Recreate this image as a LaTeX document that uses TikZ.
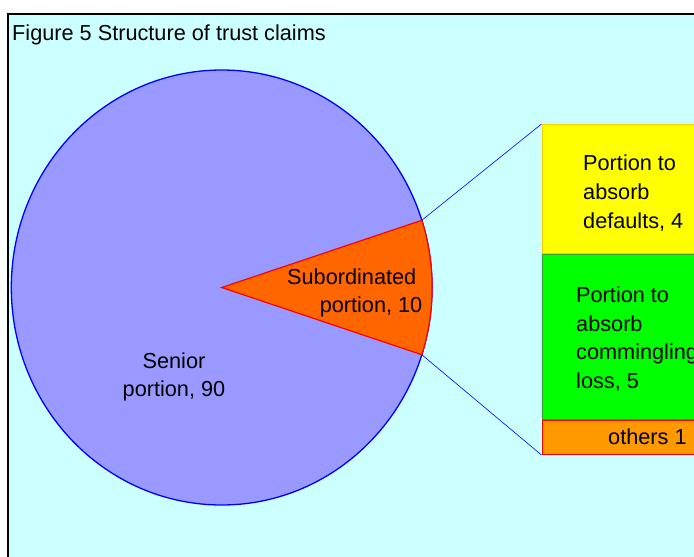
\documentclass[tikz,border=0pt]{standalone}
\usepackage{fontspec}
\setmainfont{Liberation Sans}
\usetikzlibrary{positioning}

\definecolor{chartbg}{HTML}{CCFFFF}
\definecolor{senior}{HTML}{9999FF}
\definecolor{subord}{HTML}{FF6600}
\definecolor{defaultfill}{HTML}{FFFF00}
\definecolor{defaultedge}{HTML}{FFCC00}
\definecolor{minglefill}{HTML}{00FF00}
\definecolor{mingleedge}{HTML}{33A033}
\definecolor{othersfill}{HTML}{FF9900}

\tikzset{
    lbl/.style={font=\fontsize{21.7}{28.7}\selectfont, inner sep=0pt},
    barbox/.style={draw, line width=1pt, minimum width=200pt, inner sep=0pt},
}

\begin{document}
\begin{tikzpicture}[x=1pt, y=-1pt]
    \useasboundingbox (0,0) rectangle (694,557);
    \clip (0,0) rectangle (694,557);
    \fill[white] (0,0) rectangle (694,557);
    \draw[fill=chartbg, line width=1.5pt] (8,14) rectangle (720,600);
    \node[lbl, anchor=west] (title) at (12,35) {Figure 5 Structure of trust claims};

    % pie
    \coordinate (centre) at (221.7,287.5);
    \coordinate (sliceTop) at (421.8,220.3);
    \coordinate (sliceBot) at (421.8,354.7);
    \draw[blue, fill=senior, line width=1.3pt] (centre) ellipse [x radius=210.4pt, y radius=217.5pt];
    \draw[red, fill=subord, line width=1.2pt] (centre) -- (sliceTop)
        arc[start angle=18, end angle=-18, x radius=210.4pt, y radius=217.5pt] -- cycle;
    \node[lbl, align=center] (seniorlbl) at (174,377) {Senior\\portion, 90};
    \node[lbl, align=right, anchor=east] (subordlbl) at (422.5,293) {Subordinated\kern6pt\\portion, 10};

    % bar
    \node[barbox, anchor=north west, draw=defaultedge, fill=defaultfill, minimum height=129pt] (defaults) at (541.5,124) {};
    \node[barbox, draw=mingleedge, fill=minglefill, minimum height=165pt, below right=0pt and 0pt of defaults.south west] (mingle) {};
    \node[barbox, draw=red, fill=othersfill, minimum height=34pt, below right=0pt and 0pt of mingle.south west] (others) {};
    \draw[blue, line width=0.6pt] (sliceTop) -- (defaults.north west);
    \draw[blue, line width=0.6pt] (sliceBot) -- (others.south west);

    \node[lbl, align=left, anchor=west] (defaultslbl) at (583,193) {Portion to\\absorb\\defaults, 4};
    \node[lbl, align=left, anchor=west] (minglelbl) at (576,339) {Portion to\\absorb\\commingling\\loss, 5};
    \node[lbl, anchor=west] (otherslbl) at (608,437) {others 1};
\end{tikzpicture}
\end{document}
